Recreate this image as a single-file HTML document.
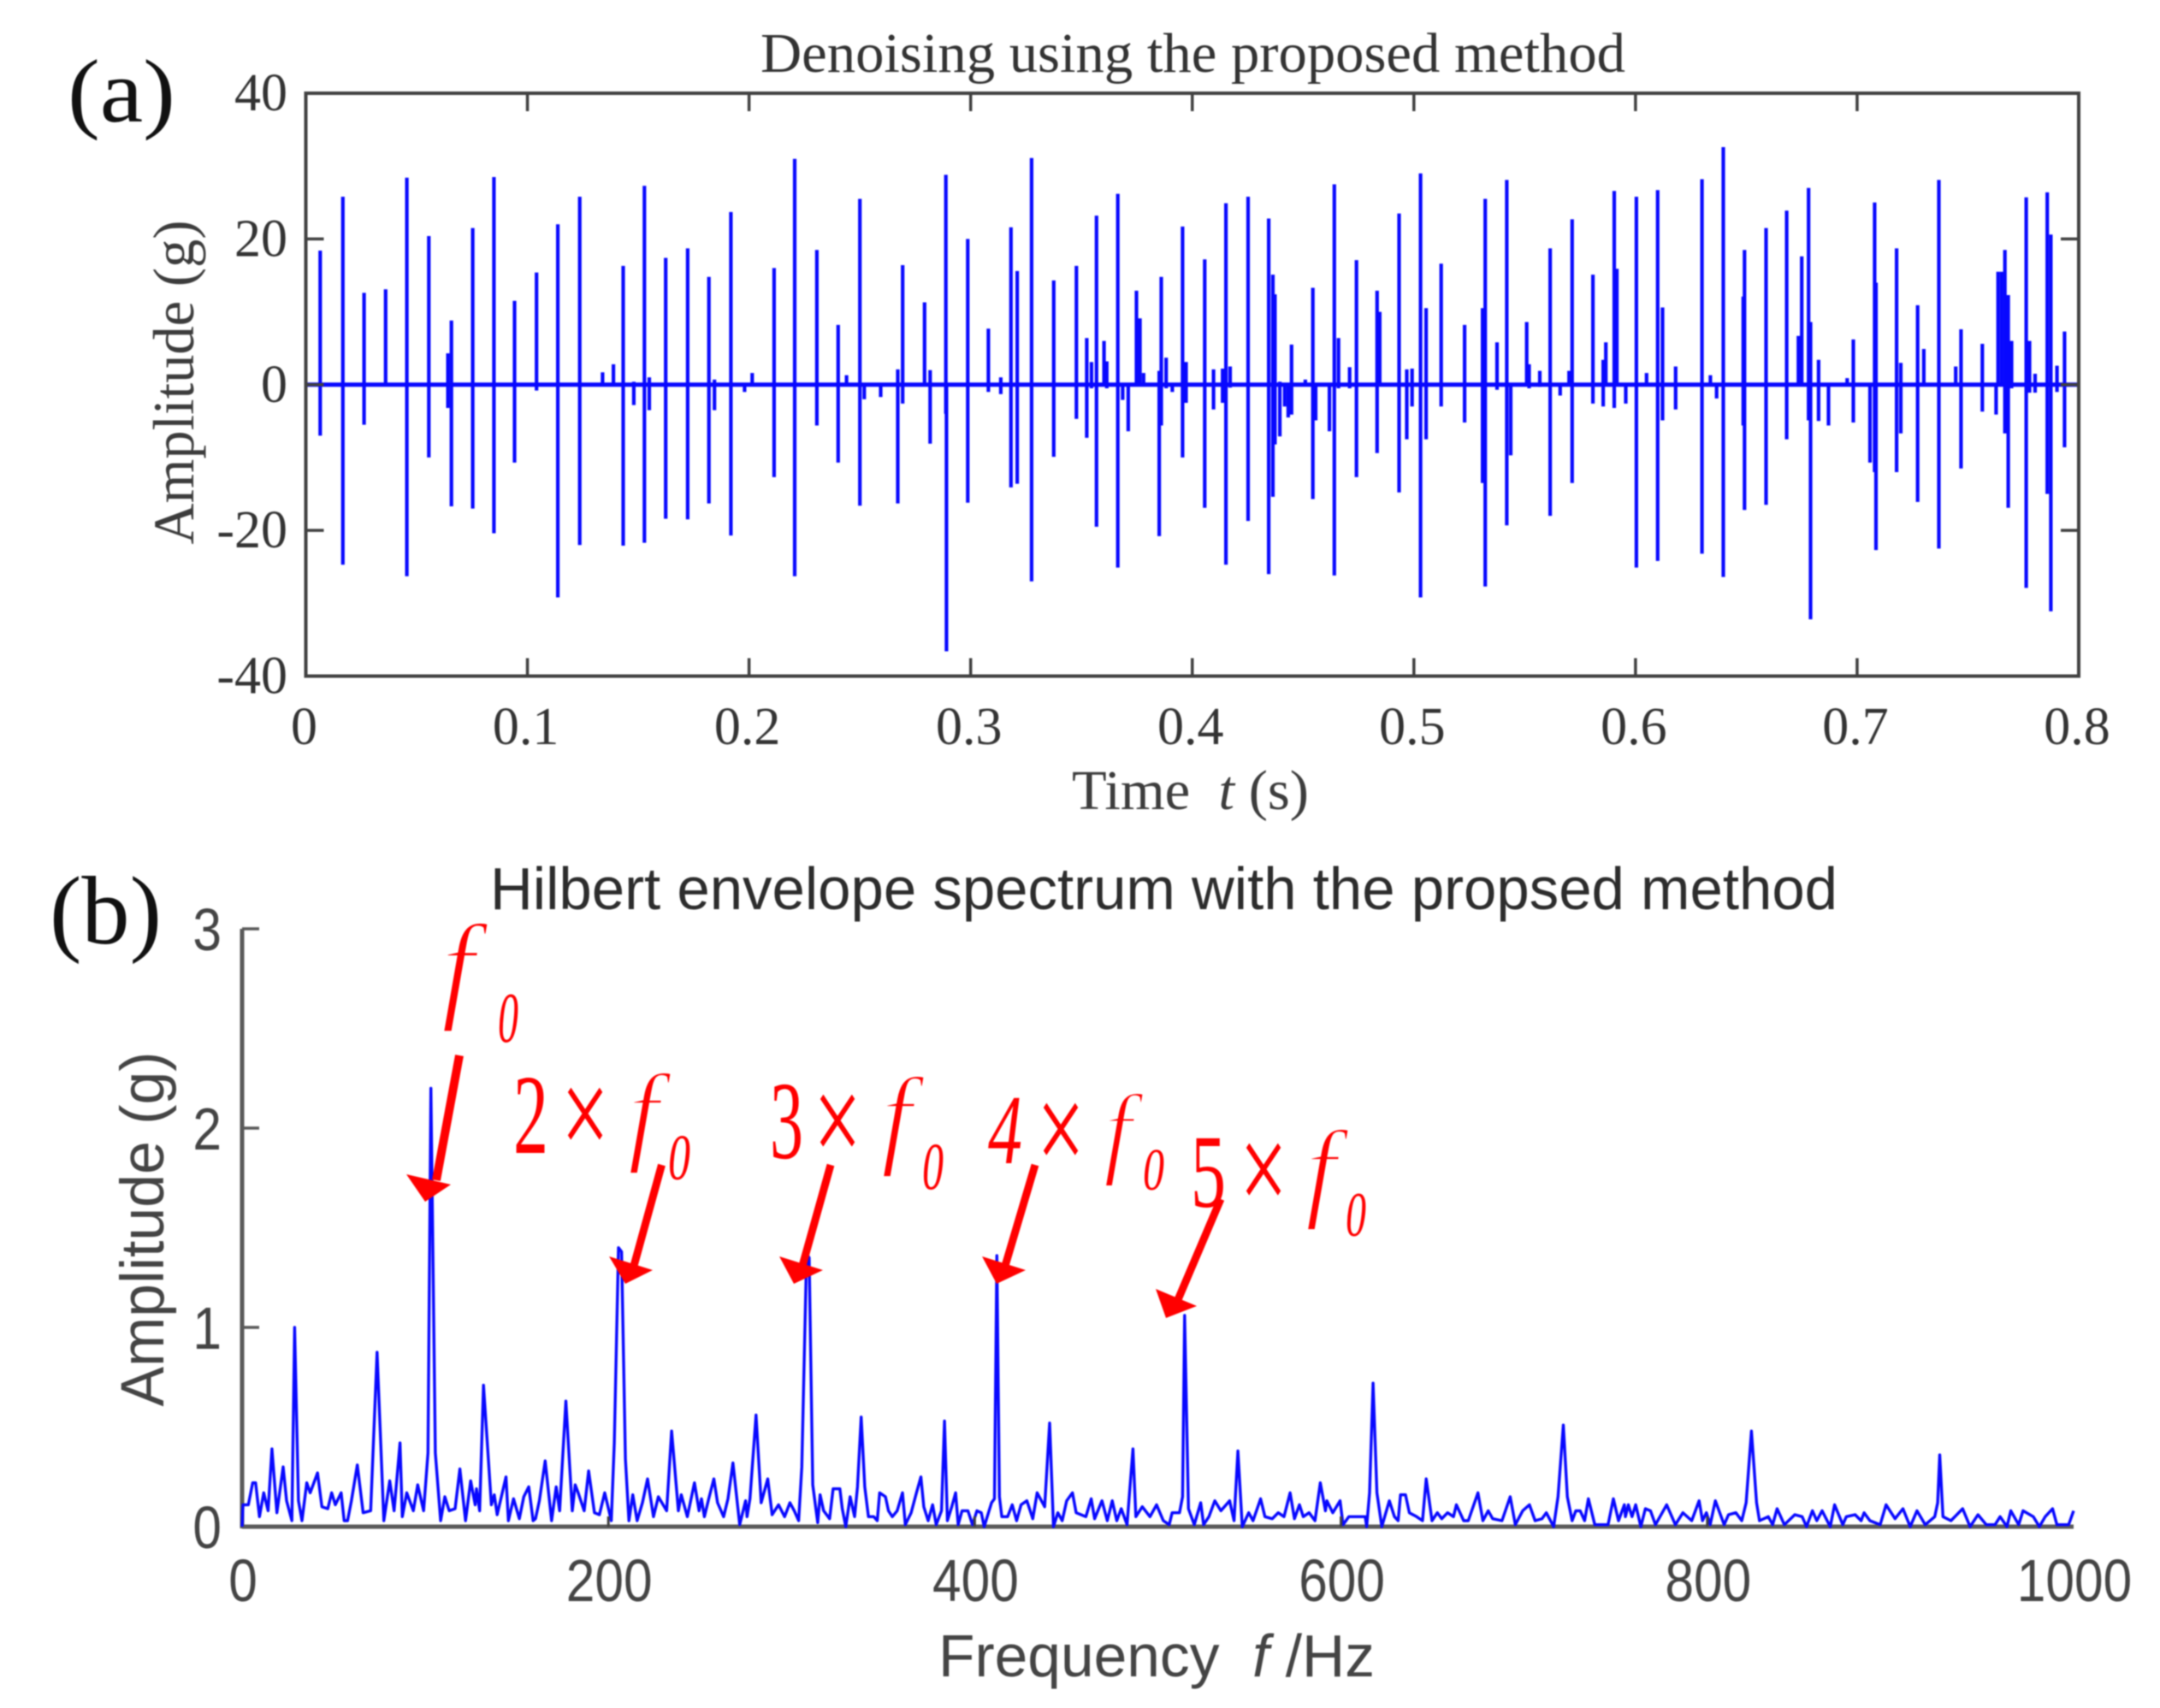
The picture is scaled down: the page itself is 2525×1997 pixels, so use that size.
<!DOCTYPE html>
<html lang="en">
<head>
<meta charset="utf-8">
<title>Denoising and Hilbert envelope spectrum</title>
<style>
html,body{margin:0;padding:0;background:#fff;overflow:hidden;}
svg{display:block;filter:blur(0.9px);}
.serif{font-family:"Liberation Serif",serif;}
.sans{font-family:"Liberation Sans",sans-serif;}
.red{font-family:"Liberation Serif",serif;fill:#ff0000;}
.thin{stroke:#ffffff;stroke-width:3px;}
</style>
</head>
<body>
<svg id="chart" xmlns="http://www.w3.org/2000/svg" width="2525" height="1997" viewBox="0 0 2525 1997">
  <rect x="0" y="0" width="2525" height="1997" fill="#ffffff"/>

  <text class="serif" x="79" y="142" font-size="105" fill="#111" textLength="126" lengthAdjust="spacingAndGlyphs">(a)</text>
  <text class="serif" x="58" y="1103" font-size="113" fill="#111" textLength="131" lengthAdjust="spacingAndGlyphs">(b)</text>

  <text class="serif" x="889" y="84" font-size="66" fill="#333" textLength="1011" lengthAdjust="spacingAndGlyphs">Denoising using the proposed method</text>
  <text class="serif" x="1253" y="946" font-size="66" fill="#3c3c3c" xml:space="preserve" textLength="277" lengthAdjust="spacingAndGlyphs">Time  <tspan font-style="italic">t</tspan> (s)</text>
  <text class="serif" transform="translate(226 447) rotate(-90)" text-anchor="middle" font-size="68" fill="#3c3c3c" textLength="379" lengthAdjust="spacingAndGlyphs">Amplitude (g)</text>

  <text class="sans" x="573" y="1063" font-size="70" fill="#2c2c2c" textLength="1575" lengthAdjust="spacingAndGlyphs">Hilbert envelope spectrum with the propsed method</text>
  <text class="sans" x="1097" y="1960" font-size="70" fill="#444" xml:space="preserve" textLength="510" lengthAdjust="spacingAndGlyphs">Frequency  <tspan font-style="italic">f</tspan> /Hz</text>
  <text class="sans" transform="translate(191 1437) rotate(-90)" text-anchor="middle" font-size="71" fill="#444" textLength="415" lengthAdjust="spacingAndGlyphs">Amplitude (g)</text>

  <g id="panel-a"></g>
  <g id="panel-b"></g>

  <g>
    <text class="red thin" x="516" y="1177" font-size="140" font-style="italic">f</text>
    <text class="red" x="582" y="1218" font-size="84" font-style="italic" textLength="24" lengthAdjust="spacingAndGlyphs">0</text>
    <path d="M537 1234L510 1380" stroke="#ff0000" stroke-width="10" fill="none"/>
    <polygon points="497,1405 475,1373 527,1385" fill="#ff0000"/>
  </g>
  <g>
    <text class="red" x="600" y="1348" font-size="133" textLength="41" lengthAdjust="spacingAndGlyphs">2</text>
    <text class="red" x="656" y="1352" font-size="150" textLength="56" lengthAdjust="spacingAndGlyphs">×</text>
    <text class="red thin" x="734" y="1345" font-size="130" font-style="italic">f</text>
    <text class="red" x="781" y="1379" font-size="76" font-style="italic" textLength="26" lengthAdjust="spacingAndGlyphs">0</text>
    <path d="M773.5 1362L741 1480" stroke="#ff0000" stroke-width="9" fill="none"/>
    <polygon points="731,1501 712,1469 763,1485" fill="#ff0000"/>
  </g>
  <g>
    <text class="red" x="900" y="1354" font-size="130" textLength="39" lengthAdjust="spacingAndGlyphs">3</text>
    <text class="red" x="951" y="1360" font-size="150" textLength="56" lengthAdjust="spacingAndGlyphs">×</text>
    <text class="red thin" x="1030" y="1349" font-size="130" font-style="italic">f</text>
    <text class="red" x="1078" y="1390" font-size="78" font-style="italic" textLength="25" lengthAdjust="spacingAndGlyphs">0</text>
    <path d="M971 1362L938 1480" stroke="#ff0000" stroke-width="9" fill="none"/>
    <polygon points="928,1501 911,1469 962,1485" fill="#ff0000"/>
  </g>
  <g>
    <text class="red" x="1155" y="1360" font-size="116" font-style="italic" textLength="40" lengthAdjust="spacingAndGlyphs">4</text>
    <text class="red" x="1212" y="1370" font-size="150" textLength="56" lengthAdjust="spacingAndGlyphs">×</text>
    <text class="red thin" x="1290" y="1362" font-size="120" font-style="italic">f</text>
    <text class="red" x="1336" y="1391" font-size="70" font-style="italic" textLength="25" lengthAdjust="spacingAndGlyphs">0</text>
    <path d="M1210 1362L1175 1480" stroke="#ff0000" stroke-width="9" fill="none"/>
    <polygon points="1165,1501 1148,1469 1199,1485" fill="#ff0000"/>
  </g>
  <g>
    <text class="red" x="1392" y="1411" font-size="122" textLength="41" lengthAdjust="spacingAndGlyphs">5</text>
    <text class="red" x="1449" y="1417" font-size="150" textLength="56" lengthAdjust="spacingAndGlyphs">×</text>
    <text class="red thin" x="1526" y="1411" font-size="130" font-style="italic">f</text>
    <text class="red" x="1573" y="1445" font-size="74" font-style="italic" textLength="24" lengthAdjust="spacingAndGlyphs">0</text>
    <path d="M1427 1402L1376 1522" stroke="#ff0000" stroke-width="9" fill="none"/>
    <polygon points="1363,1541 1351,1507 1399,1527" fill="#ff0000"/>
  </g>
</svg>

<script>
// Panel (a): time-domain signal, one impulse per entry
const spikeTimes = [0.0065,0.0167,0.0263,0.036,0.0456,0.0555,0.0641,0.0657,0.0753,0.0849,0.0942,0.1041,0.1137,0.1236,0.1339,0.1388,0.1432,0.148,0.1528,0.155,0.1624,0.1723,0.1819,0.1844,0.1918,0.198,0.2014,0.2113,0.2206,0.2306,0.2402,0.244,0.25,0.252,0.2594,0.2671,0.2693,0.2792,0.2817,0.2888,0.2891,0.2987,0.308,0.3136,0.3182,0.321,0.3275,0.3375,0.3477,0.3524,0.3545,0.3568,0.3602,0.3614,0.3664,0.3686,0.3711,0.3748,0.3764,0.378,0.3851,0.386,0.3882,0.391,0.3956,0.3972,0.4056,0.4096,0.4137,0.4152,0.4171,0.4252,0.4345,0.4364,0.4373,0.4395,0.4417,0.4433,0.4448,0.451,0.4544,0.4557,0.4619,0.4641,0.466,0.471,0.4741,0.4834,0.4846,0.4933,0.4968,0.4992,0.503,0.5055,0.5123,0.5229,0.531,0.5322,0.5375,0.5419,0.5437,0.5509,0.552,0.5568,0.5615,0.566,0.57,0.5714,0.5808,0.5854,0.5866,0.5904,0.5916,0.5956,0.6004,0.605,0.61,0.6122,0.6181,0.63,0.6338,0.6366,0.6396,0.6486,0.6492,0.6589,0.6682,0.6735,0.675,0.6781,0.679,0.6826,0.6871,0.6955,0.6983,0.7058,0.7079,0.7085,0.7178,0.7197,0.7273,0.7301,0.7369,0.7445,0.7469,0.7565,0.7627,0.7636,0.7652,0.7667,0.7682,0.7697,0.7763,0.7778,0.7803,0.7858,0.7874,0.7902,0.7936];
const spikeUp = [18.4,25.8,12.6,13.1,28.4,20.4,4.3,8.8,21.5,28.5,11.5,15.4,22,25.8,1.7,2.8,16.3,0.4,27.3,1,17.4,18.7,14.8,0.7,23.7,0,1.6,16,31,18.5,8.2,1.3,25.5,0,0,2.1,16.4,11.3,2,28.8,0,20,7.7,1,21.6,15.6,31.1,14.3,16.3,6.4,3.1,23.2,6,3.2,26.2,0,0,12.9,9.1,1.6,1.9,14.8,3.7,0,21.7,3.1,17.2,2.1,2.2,24.9,2.5,25.8,22.8,15.1,12.4,0.4,0,0,5.5,0.7,13.3,0,0,27.5,6.4,2.4,17.1,12.9,10,23.5,2.1,2.2,29,10.5,16.6,8.2,10.5,25.5,5.8,28.1,0,8.6,2.8,1.9,18.7,0,1.9,22.7,15.1,3.4,5.8,26.6,15.9,0,25.8,1.6,26.7,10.6,2.5,28.2,1.3,0,32.6,12.1,18.5,21.5,23.9,6.7,17.6,27,8.6,3.4,0,0.9,6.2,0,25,14,18.7,3,10.9,4.9,28.1,2.5,7.6,5.6,0,15.5,15.5,18.5,12.3,6,25.7,6,1.5,26.4,20.6,2.6,7.3];
const spikeDown = [-7,-24.7,-5.5,0,-26.3,-10,-3.2,-16.7,-17,-20.4,-10.7,-0.8,-29.2,-22,0,0,-22.1,-2.8,-21.7,-3.5,-18.4,-18.5,-16.3,-3.5,-20.7,-1,0,-12.7,-26.3,-5.6,-10.7,0,-16.6,-2,-1.7,-16.3,-2.6,0,-8.1,-4,-36.6,-16.2,-1,-1.3,-14.1,-13.6,-27,-9.9,-4.7,-7.3,-0.5,-19.5,0,-0.5,-25.1,-2.1,-6.4,0,0,0,-20.8,-5.6,-0.5,-1,-10,-2.5,-16.9,-3.4,-2.5,-24.7,-0.4,-18.7,-26,-15.4,-8.2,-7.1,-3,-4.5,-4.1,0,-15.7,-4.9,-6.4,-26.2,-0.5,-0.5,-12.7,-9.4,0,-14.8,-7.5,-3,-29.2,-7.5,-3,-5.2,-13.5,-27.7,-0.7,-19.3,-9.7,0,-0.5,-0.3,-18,-1.5,0,-13.5,-2.6,-3,0,-3.2,0,-2.6,-25.1,0,-24.2,-4.9,-3.4,-23.2,0,-1.9,-26.4,-5.6,-17.2,-16.5,-7.5,0,0,-4.9,-32.2,-5,-5.6,0,-5.2,-10.7,-12,-22.7,-12,-6.7,-16.1,0,-22.5,0,-11.5,-3.7,-4.1,0,0,-6.7,-16.9,-0.5,-27.9,-1.1,-1.1,-15,-31.1,-1,-8.6];
const timeTicks = [0,0.1,0.2,0.3,0.4,0.5,0.6,0.7,0.8];
const timeTickLabels = ['0','0.1','0.2','0.3','0.4','0.5','0.6','0.7','0.8'];
const signalTicks = [40,20,0,-20,-40];
const signalTickLabels = ['40','20','0','-20','-40'];

// Panel (b): Hilbert envelope spectrum
const freqHz = [0,0.5,3.4,5.8,7.4,9.5,11.8,14.2,16.3,19,22.4,24.3,27.2,28.7,30.8,32.7,35.3,37.2,41.2,43.6,46.8,48.9,50.9,54.1,55.7,57.6,59.7,62.9,66.1,70.2,73.7,77.4,80.6,83,86.2,87.5,89.9,93.5,95.9,99.1,101.5,103.1,105.5,108.4,110.7,113.1,116.3,118.9,122,124.8,127.3,128,129.7,131.8,136.1,137.7,139.3,144.1,145.4,148.2,151.4,153.8,156.5,158.9,160.2,162.3,165.5,169,171.5,173.4,176.8,180.3,181.9,183.5,186.8,189.2,192.4,195.1,198,201.6,203.2,205.5,207.2,209.3,211.2,213.3,215.7,218.6,221.4,224.6,227.3,231.8,234.5,238.2,239.8,243.1,247,249.5,
250.8,252.4,254.8,257.6,259.6,262.9,265.3,268,271.7,274.9,275.7,277.3,280.6,283.4,287,289.4,292.9,296.2,299.1,301.5,303.9,305.6,308.2,309.6,311.6,314.3,315.6,317.5,320.8,322.7,326.4,327.7,329.6,332,334.4,336,338,340,342,344.9,346.8,348.1,351.3,352.9,355,357.7,360.6,362.1,365.3,368.2,370.6,372.2,374.6,377,379,381.9,383.5,385.1,387.5,389.6,391,393.1,396.3,398.8,401.2,403.6,405.2,409.2,410.8,412.1,413.5,414.8,418,420.5,422.9,425.3,428.5,431.7,434.1,438.2,440.9,443,445.4,447.8,450.2,453.4,455.4,460.7,463.6,465.5,469.5,472.4,475.1,477.6,480,483.2,486.4,488,491.5,495.7,499.3,
503,506.2,507.8,511.8,513.5,514.6,516.7,519.9,523.4,525,527.9,531.1,534.4,539.2,541.6,543.7,546.1,549.6,552,556.1,558.5,562.5,565.7,568.9,572.2,574.6,577.3,579.4,582.6,585.8,588.7,591.5,592.3,595.5,599.5,601.1,604.3,607.5,613.2,614,615.6,617.5,619.6,622.3,626.4,629.2,631.2,632.5,635.2,637.3,641.3,644.5,646.5,649.7,652.6,655,658.2,661.4,663,667,669.5,674.8,677.5,680.4,682.8,687.9,692.4,695.2,699.2,702.9,706,709.7,712.1,716.1,718.5,721.4,723.6,726.2,728.2,730.6,733,735.1,738.6,745.8,748.7,751.5,754.7,
755.3,756.9,758.9,760.9,763.7,766.2,769,771.7,777.8,782.6,786.7,791.5,795.5,797.4,799.5,801.6,804.4,809.2,811.6,815.6,818.8,821.2,824.1,826.9,828.5,833.3,835.7,838.1,842.1,847.8,851.8,854.2,857.4,859.8,862.7,867.1,869.5,874,875.9,880.7,884,885.6,888.8,894.4,897.6,902.5,906.8,910.8,914.5,919,924.2,925.8,926.9,928.7,933,939.4,943.5,947.8,952.3,957.1,959.9,963.6,965.7,970,972.4,978,981.3,984.5,988.5,990.9,997.3,1000];
const ampG = [0,.11,.11,.22,.22,.05,.17,.08,.39,.07,.30,.13,.03,1.0,.13,.03,.22,.17,.27,.10,.09,.17,.11,.17,.03,.03,.13,.31,.07,.08,.875,.03,.23,.08,.42,.05,.17,.08,.21,.08,.37,2.2,.37,.03,.15,.08,.09,.29,.03,.23,.11,.19,.08,.71,.11,.16,.06,.25,.03,.14,.04,.15,.20,.03,.04,.13,.33,.03,.20,.08,.63,.08,.21,.17,.08,.28,.07,.06,.17,.03,.42,1.4,1.38,.34,.03,.16,.03,.12,.24,.05,.15,.08,.48,.08,.16,.05,.22,.08,
.14,.05,.14,.24,.12,.05,.14,.32,.01,.13,.05,.14,.56,.12,.24,.06,.11,.05,.12,.08,.03,.30,1.37,1.35,.21,.02,.16,.08,.04,.19,.19,.09,0,.15,.05,.2,.55,.2,.05,.05,.03,.17,.15,.08,.05,.08,.17,.01,.07,.17,.25,.10,.03,.11,.01,.08,.53,.03,.10,.17,.01,.08,.08,.01,.08,.07,0,.12,.14,1.36,.15,.05,.05,.11,.03,.11,.13,.04,.17,.10,.52,0,.07,.03,.13,.17,.07,.05,.14,.04,.13,.03,.13,.03,.09,.01,.39,.05,.10,.05,.11,
.03,.01,.07,.07,.15,1.06,.09,.01,.12,.01,.05,.13,.08,.13,.03,.38,0,.07,.03,.14,.05,.04,.07,.05,.17,.04,.11,.05,.07,.03,.22,.08,.13,.07,.13,.01,.05,.05,.05,0,.17,.72,.17,0,.13,.05,.03,.16,.16,.07,.05,.03,.24,.03,.07,.04,.07,.05,.11,.03,.03,.17,.03,.08,.04,.03,.15,.01,.08,.11,.03,.04,.07,0,.15,.51,.15,.03,.08,.08,.03,.14,.01,.01,.14,.03,.11,
.05,.11,.05,.11,0,.09,.08,.01,.11,.01,.07,.03,.13,.03,.07,.01,.13,.01,.06,.07,.03,.12,.48,.12,.03,.05,.01,.09,.01,.06,.05,0,.08,.03,.08,0,.11,.01,.05,.06,.03,.07,.03,.01,.11,.04,.09,0,.08,.01,.05,.12,.36,.05,.03,.09,0,.06,.01,.01,.05,0,.08,.01,.08,.05,0,.05,.09,.01,.01,.08];
const freqTicks = [0,200,400,600,800,1000];
const freqTickLabels = ['0','200','400','600','800','1000'];
const ampTicks = [0,1,2,3];
const ampTickLabels = ['0','1','2','3'];

const NS = 'http://www.w3.org/2000/svg';
function make(parent, tag, attrs, content) {
  const el = document.createElementNS(NS, tag);
  for (const k in attrs) el.setAttribute(k, attrs[k]);
  if (content !== undefined) el.textContent = content;
  parent.appendChild(el);
  return el;
}

// Axis functions, panel (a)
const A = {left: 357.5, right: 2430, top: 109, bottom: 790.5};
function xTime(t) { return A.left + (t / 0.8) * (A.right - A.left); }
function ySignal(v) { return A.top + ((40 - v) / 80) * (A.bottom - A.top); }

// Axis functions, panel (b)
const B = {left: 283, right: 2424, top: 1086, bottom: 1785};
function xFreq(f) { return B.left + (f / 1000) * (B.right - B.left); }
function yAmp(a) { return B.bottom - (a / 3) * (B.bottom - B.top); }

const gA = document.getElementById('panel-a');
const gB = document.getElementById('panel-b');
const axisA = '#404040';
const axisB = '#5a5a5a';
const lineBlue = '#0808ff';

// ---- Panel (a) signal ----
const baseLine = make(gA, 'line', {x1: xTime(0), x2: xTime(0.8), y1: ySignal(0), y2: ySignal(0), stroke: lineBlue, 'stroke-width': 5});



spikeTimes.forEach(function (t, i) {
  const d = 'M' + xTime(t).toFixed(1) + ' ' + ySignal(spikeUp[i]).toFixed(1) + 'L' + xTime(t).toFixed(1) + ' ' + ySignal(spikeDown[i]).toFixed(1);
  const spike = make(gA, 'path', {d: d, stroke: lineBlue, 'stroke-width': 4.2, fill: 'none'});
  
  
});

const boxA = make(gA, 'rect', {x: A.left, y: A.top, width: A.right - A.left, height: A.bottom - A.top, fill: 'none', stroke: axisA, 'stroke-width': 4});



timeTicks.forEach(function (t, i) {
  if (t > 0 && t < 0.8) {
    const tb = make(gA, 'line', {x1: xTime(t), x2: xTime(t), y1: A.bottom, y2: A.bottom - 21, stroke: axisA, 'stroke-width': 3.5});
    
    
    const tt = make(gA, 'line', {x1: xTime(t), x2: xTime(t), y1: A.top, y2: A.top + 21, stroke: axisA, 'stroke-width': 3.5});
    
    
  }
  const lab = make(gA, 'text', {x: xTime(t) - 2, y: 870, 'text-anchor': 'middle', 'font-size': 62, fill: '#333', class: 'serif'}, timeTickLabels[i]);
  
  
});

signalTicks.forEach(function (v, i) {
  if (v !== 40 && v !== -40) {
    const tl = make(gA, 'line', {x1: A.left, x2: A.left + 21, y1: ySignal(v), y2: ySignal(v), stroke: axisA, 'stroke-width': 3.5});
    
    
    const tr = make(gA, 'line', {x1: A.right, x2: A.right - 21, y1: ySignal(v), y2: ySignal(v), stroke: axisA, 'stroke-width': 3.5});
    
    
  }
  const lab = make(gA, 'text', {x: 336, y: ySignal(v) + 20, 'text-anchor': 'end', 'font-size': 62, fill: '#333', class: 'serif'}, signalTickLabels[i]);
  
  
});

// ---- Panel (b) spectrum ----
const axisBLeft = make(gB, 'line', {x1: B.left, x2: B.left, y1: B.top, y2: B.bottom + 2, stroke: axisB, 'stroke-width': 5});


const axisBBottom = make(gB, 'line', {x1: B.left, x2: B.right, y1: B.bottom, y2: B.bottom, stroke: axisB, 'stroke-width': 5});



const specPts = freqHz.map(function (f, i) {
  return xFreq(f).toFixed(1) + ',' + yAmp(ampG[i]).toFixed(1);
}).join(' ');
const specLine = make(gB, 'polyline', {points: specPts, fill: 'none', stroke: lineBlue, 'stroke-width': 3.4, 'stroke-linejoin': 'round'});



freqTicks.forEach(function (f, i) {
  if (f > 0 && f < 1000) {
    const tick = make(gB, 'line', {x1: xFreq(f), x2: xFreq(f), y1: B.bottom, y2: B.bottom - 12, stroke: '#404040', 'stroke-width': 3});
    
    
  }
  const lab = make(gB, 'text', {x: xFreq(f) + 1, y: 1872, 'text-anchor': 'middle', 'font-size': 70, fill: '#444', class: 'sans', textLength: freqTickLabels[i].length * 33.6, lengthAdjust: 'spacingAndGlyphs'}, freqTickLabels[i]);
  
  
});

ampTicks.forEach(function (a, i) {
  if (a > 0) {
    const tick = make(gB, 'line', {x1: B.left, x2: B.left + 20, y1: yAmp(a), y2: yAmp(a), stroke: axisB, 'stroke-width': 3.5});
    
    
  }
  const lab = make(gB, 'text', {x: 259, y: yAmp(a) + 25, 'text-anchor': 'end', 'font-size': 70, fill: '#444', class: 'sans', textLength: 33.6, lengthAdjust: 'spacingAndGlyphs'}, ampTickLabels[i]);
  
  
});
</script>
</body>
</html>
